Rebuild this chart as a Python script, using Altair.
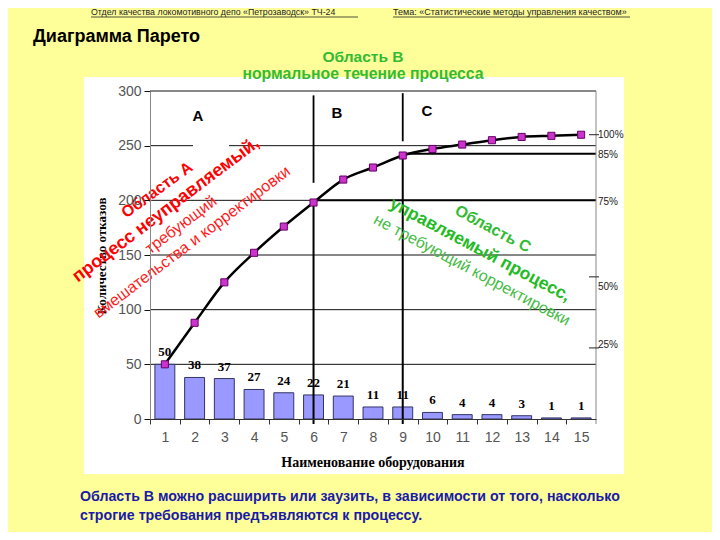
import altair as alt
import pandas as pd

# ---- data ----
categories = list(range(1, 16))
counts = [50, 38, 37, 27, 24, 22, 21, 11, 11, 6, 4, 4, 3, 1, 1]
cumulative = [50, 88, 125, 152, 176, 198, 219, 230, 241, 247, 251, 255, 258, 259, 260]
y_ticks = [0, 50, 100, 150, 200, 250, 300]
grid_values = [50, 100, 150, 200, 250, 300]
pct_labels = ["100%", "85%", "75%", "50%", "25%"]
pct_values = [260, 241.5, 198.5, 121, 68]
pct_tick_values = [260, 130, 65]
boundary_cats = [6, 9]
boundary_cum = [198, 241]
boundary_level = [200, 242.5]
sep_cats = [6, 9]
sep_top = [296, 298]
sep_bottom = [216, 254]

W, H = 446, 328
step = W / 15.0

df = pd.DataFrame({"cat": categories, "count": counts, "cum": cumulative})
grid_df = pd.DataFrame({"val": grid_values})
pct_df = pd.DataFrame({"label": pct_labels, "val": pct_values})
ptick_df = pd.DataFrame({"val": pct_tick_values})
bnd_df = pd.DataFrame({"cat": boundary_cats, "cum": boundary_cum, "lvl": boundary_level})
sep_df = pd.DataFrame({"cat": sep_cats, "top": sep_top, "bottom": sep_bottom})

yscale = alt.Scale(domain=[0, 300], nice=False)
xscale = alt.Scale(paddingInner=0.33, paddingOuter=0.165)

xaxis = alt.Axis(labelAngle=0, labelFont="Liberation Sans", labelFontSize=14,
                 labelColor="#555555", tickOffset=-step / 2, labelOffset=step / 2,
                 tickSize=5, labelPadding=6, domainColor="#333333", tickColor="#333333",
                 grid=False, zindex=1, title=None)
yaxis = alt.Axis(values=y_ticks, labelFont="Liberation Sans", labelFontSize=14,
                 labelColor="#555555", tickSize=6, labelPadding=3, domainColor="#888888",
                 tickColor="#111111", grid=False, zindex=1, title=None)


def X(field="cat:O"):
    return alt.X(field, title=None, scale=xscale, axis=xaxis)


def Y(field):
    return alt.Y(field, title=None, scale=yscale, axis=yaxis)


one = alt.Data(values=[{}])


def txt(text, x, y, size, color="#000000", bold=False, font="Liberation Sans",
        angle=0, align="center", baseline="middle"):
    return alt.Chart(one).mark_text(
        font=font, fontSize=size, fontWeight="bold" if bold else "normal",
        color=color, angle=angle, align=align, baseline=baseline
    ).encode(x=alt.value(x), y=alt.value(y), text=alt.value(text))


white_box = alt.Chart(one).mark_rect(color="white").encode(
    x=alt.value(-66), x2=alt.value(474), y=alt.value(-14), y2=alt.value(383))

grid = alt.Chart(grid_df).mark_rule(color="#111111", strokeWidth=1).encode(y=Y("val:Q"))

gap = alt.Chart(one).mark_rect(color="white").encode(
    x=alt.value(43), x2=alt.value(79), y=alt.value(50), y2=alt.value(60))

bars = alt.Chart(df).mark_bar(color="#9999FF", stroke="#333366", strokeWidth=1).encode(
    x=X(), y=Y("count:Q"))

hlines = alt.Chart(bnd_df).mark_rule(color="#000000", strokeWidth=2).encode(
    x=X(), x2=alt.value(W), y=Y("lvl:Q"))

vlines = alt.Chart(bnd_df).mark_rule(color="#000000", strokeWidth=2).encode(
    x=X(), y=Y("cum:Q"), y2=alt.value(H + 5))

seps = alt.Chart(sep_df).mark_rule(color="#000000", strokeWidth=1.8).encode(
    x=X(), y=Y("top:Q"), y2="bottom:Q")

right_axis = alt.Chart(one).mark_rule(color="#888888", strokeWidth=1).encode(
    x=alt.value(W), y=alt.value(0), y2=alt.value(H + 5))

right_ticks = alt.Chart(ptick_df).mark_rule(color="#222222", strokeWidth=1).encode(
    x=alt.value(W - 7), x2=alt.value(W + 3), y=Y("val:Q"))

pct_text = alt.Chart(pct_df).mark_text(
    font="Liberation Sans", fontSize=10, color="#222222", align="left", baseline="middle"
).encode(x=alt.value(W + 2), y=Y("val:Q"), text="label:N")

line = alt.Chart(df).mark_line(color="#000000", strokeWidth=2.5, interpolate="monotone").encode(
    x=X(), y=Y("cum:Q"))

points = alt.Chart(df).mark_point(shape="square", filled=True, size=50, color="#CC33CC",
                                  stroke="#660066", strokeWidth=1, opacity=1).encode(
    x=X(), y=Y("cum:Q"))

bar_labels = alt.Chart(df).mark_text(
    font="Liberation Serif", fontSize=13, fontWeight="bold", color="#000000",
    baseline="bottom", dy=-5
).encode(x=X(), y=Y("count:Q"), text="count:Q")

layers = [
    white_box, grid, gap, bars, hlines, vlines, seps, right_axis, right_ticks, pct_text,
    line, points, bar_labels,
    txt("A", 48, 25, 15, bold=True),
    txt("B", 187, 22, 15, bold=True),
    txt("C", 277, 20, 15, bold=True),
    txt("Наименование оборудования", 223, 372, 14, bold=True, font="Liberation Serif"),
    txt("Количество отказов", -48, 165, 13, bold=True, font="Liberation Serif", angle=270),
    # red rotated annotations
    txt("Область А", 7, 99, 16, color="#FF0000", bold=True, angle=324),
    txt("процесс неуправляемый,", 16, 119, 18, color="#FF0000", bold=True, angle=323),
    txt("требующий", 31, 134, 16, color="#FF1A1A", angle=323),
    txt("вмешательства и корректировки", 42, 151, 16, color="#FF1A1A", angle=323),
    # green rotated annotations
    txt("Область С", 343, 138, 16, color="#33BB33", bold=True, angle=28),
    txt("управляемый процесс,", 330, 159, 17.5, color="#22BB22", bold=True, angle=28),
    txt("не требующий корректировки", 322, 179, 16, color="#44BB44", angle=28),
    # header
    txt("Отдел  качества  локомотивного  депо  «Петрозаводск»  ТЧ-24", -59, -76, 8.8,
        color="#222222", align="left", baseline="alphabetic"),
    txt("Тема:  «Статистические методы управления качеством»", 243, -76, 9,
        color="#222222", align="left", baseline="alphabetic"),
    alt.Chart(one).mark_rule(color="#222222", strokeWidth=0.8).encode(
        x=alt.value(-59), x2=alt.value(208), y=alt.value(-74)),
    alt.Chart(one).mark_rule(color="#222222", strokeWidth=0.8).encode(
        x=alt.value(243), x2=alt.value(480), y=alt.value(-74)),
    txt("Диаграмма  Парето", -117, -54, 18, bold=True, align="left"),
    txt("Область В", 213, -34, 15.5, color="#33BB33", bold=True),
    txt("нормальное течение процесса", 213, -17, 15.8, color="#33BB33", bold=True),
    txt("Область В можно расширить или заузить, в зависимости от того, насколько",
        -70, 406, 14.2, color="#1A1AAA", bold=True, align="left"),
    txt("строгие требования предъявляются к процессу.",
        -70, 425, 14.2, color="#1A1AAA", bold=True, align="left"),
]

chart = alt.layer(*layers).properties(
    width=W, height=H,
    padding={"left": 142, "top": 83, "right": 704 - 142 - W, "bottom": 524 - 83 - H},
    autosize=alt.AutoSizeParams(type="none"),
    background="#FFFF99",
).configure_view(stroke=None)

chart.save("out.html", embed_options={"renderer": "svg", "actions": False})
